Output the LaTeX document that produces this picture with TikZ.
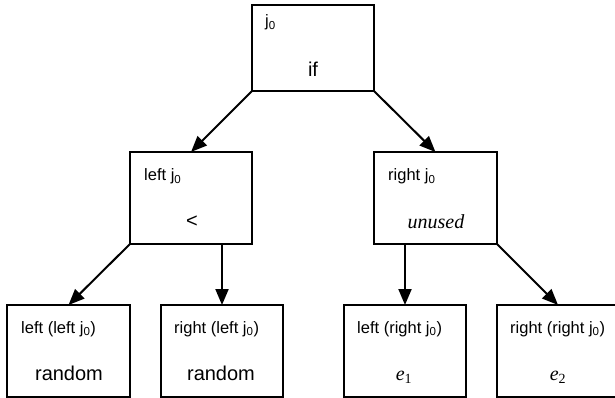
\documentclass[tikz,border=0pt]{standalone}
\usepackage{fontspec}
\setmainfont{Liberation Sans}
\newfontfamily\serifrm{Liberation Serif}
\usetikzlibrary{arrows.meta}
\newcommand\jz{j\textsubscript{0}}
\newcommand\eidx[1]{{\serifrm\itshape e}\textsubscript{\serifrm #1}}
\tikzset{
  box/.style={draw, line width=2pt, minimum width=122pt, minimum height=92pt, inner sep=0pt, outer sep=0pt},
  lbl/.style={anchor=base west, inner sep=0pt, font=\fontsize{16.5}{19}\selectfont},
  main/.style={anchor=base, inner sep=0pt, font=\fontsize{20}{23}\selectfont},
  conn/.style={line width=2pt, -{Triangle[length=16pt,width=13pt]}}
}
\begin{document}
\begin{tikzpicture}[x=1pt,y=-1pt]
\useasboundingbox (0,0) rectangle (615,398);
\clip (0,0) rectangle (615,398);
% boxes
\node[box, minimum height=86pt] (top) at (313,48) {};
\node[box] (ml) at (191,198) {};
\node[box, minimum width=123pt] (mr) at (435.5,198) {};
\node[box, minimum width=123pt] (b1) at (68.5,351) {};
\node[box] (b2) at (222,351) {};
\node[box] (b3) at (405,351) {};
\node[box] (b4) at (558,351) {};
% texts
\node[lbl] (tl) at (265,27) {\jz};
\node[main] (tm) at (313,77) {if};
\node[lbl] (mll) at (144,181) {left \jz};
\node[main] (mlm) at (192,227) {<};
\node[lbl] (mrl) at (388,181) {right \jz};
\node[main] (mrm) at (436,228) {\serifrm\itshape unused};
\node[lbl] (b1l) at (21,333) {left (left \jz)};
\node[main] (b1m) at (69,380) {random};
\node[lbl] (b2l) at (174,333) {right (left \jz)};
\node[main] (b2m) at (221,380) {random};
\node[lbl] (b3l) at (357,333) {left (right \jz)};
\node[main] (b3m) at (404,380) {\eidx{1}};
\node[lbl] (b4l) at (510,333) {right (right \jz)};
\node[main] (b4m) at (558,380) {\eidx{2}};
% connectors
\draw[conn] (top.south west) -- (ml.north);
\draw[conn] (top.south east) -- (mr.north);
\draw[conn] (ml.south west) -- (b1.north);
\draw[conn] (b2.north |- ml.south) -- (b2.north);
\draw[conn] (b3.north |- mr.south) -- (b3.north);
\draw[conn] (mr.south east) -- (b4.north);
\end{tikzpicture}
\end{document}
